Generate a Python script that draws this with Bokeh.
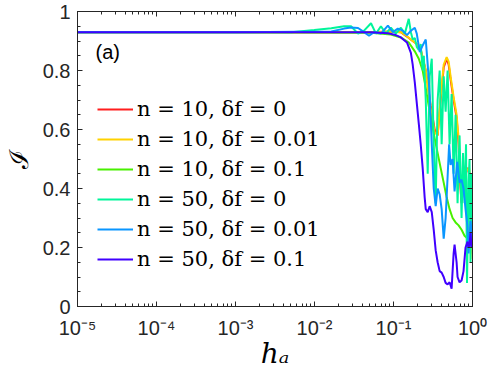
from bokeh.plotting import figure
from bokeh.models import (FixedTicker, LogAxis, LinearAxis, Legend, LegendItem,
                          Label, CustomJSTickFormatter, Range1d)
from bokeh.embed import file_html
from bokeh.resources import INLINE

# ---------------- data ----------------
h_n10 = [1e-5, 1e-3, 0.0519, 0.0927, 0.124, 0.148, 0.175, 0.197, 0.221, 0.256, 0.296,
         0.332, 0.362, 0.395, 0.432, 0.471, 0.499, 0.528, 0.577, 0.629, 0.667, 0.697,
         0.727, 0.759, 0.793, 0.828, 0.865, 0.904, 0.944, 0.985, 1.0]
I_n10_df0 = [0.93, 0.93, 0.93, 0.932, 0.93, 0.915, 0.90, 0.89, 0.87, 0.80, 0.68,
             0.60, 0.58, 0.70, 0.81, 0.84, 0.82, 0.77, 0.70, 0.64, 0.55, 0.42,
             0.35, 0.40, 0.45, 0.46, 0.47, 0.45, 0.38, 0.22, 0.18]
I_n10_df001 = [0.93, 0.93, 0.93, 0.932, 0.93, 0.916, 0.90, 0.89, 0.87, 0.80, 0.67,
               0.59, 0.58, 0.71, 0.82, 0.845, 0.83, 0.78, 0.71, 0.65, 0.57, 0.45,
               0.37, 0.41, 0.47, 0.47, 0.46, 0.47, 0.43, 0.20, 0.16]

h_n10_df01 = [1e-5, 1e-3, 0.0519, 0.0927, 0.124, 0.156, 0.186, 0.209, 0.234, 0.256,
              0.279, 0.305, 0.332, 0.362, 0.395, 0.432, 0.471, 0.513, 0.560, 0.611,
              0.667, 0.727, 0.793, 0.865, 0.944, 1.0]
I_n10_df01 = [0.93, 0.93, 0.928, 0.922, 0.912, 0.895, 0.865, 0.84, 0.80, 0.74,
              0.68, 0.625, 0.57, 0.52, 0.47, 0.42, 0.37, 0.33, 0.30, 0.285,
              0.275, 0.26, 0.24, 0.23, 0.225, 0.22]

h_n50_df0 = [1e-5, 1e-3, 0.00511, 0.00993, 0.0163, 0.0237, 0.0290, 0.0356, 0.0424,
             0.0519, 0.0600, 0.0693, 0.0802, 0.0927, 0.107, 0.124, 0.139, 0.156,
             0.166, 0.175, 0.186, 0.197, 0.209, 0.221, 0.234, 0.242, 0.256, 0.271,
             0.287, 0.305, 0.323, 0.342, 0.362, 0.384, 0.407, 0.432, 0.457, 0.484,
             0.513, 0.544, 0.577, 0.611, 0.647, 0.686, 0.727, 0.759, 0.793, 0.828,
             0.852, 0.891, 0.917, 0.944, 0.971, 1.0]
I_n50_df0 = [0.93, 0.93, 0.93, 0.937, 0.943, 0.95, 0.95, 0.925, 0.935,
             0.96, 0.925, 0.95, 0.925, 0.945, 0.925, 0.945, 0.925, 0.975,
             0.93, 0.905, 0.91, 0.88, 0.87, 0.89, 0.80, 0.85, 0.70, 0.45,
             0.78, 0.84, 0.55, 0.35, 0.70, 0.80, 0.55, 0.78, 0.66, 0.80,
             0.55, 0.72, 0.45, 0.65, 0.35, 0.58, 0.30, 0.52, 0.35, 0.55,
             0.08, 0.42, 0.50, 0.15, 0.45, 0.30]

h_n50_df001 = [1e-5, 1e-3, 0.0163, 0.0237, 0.0290, 0.0356, 0.0424, 0.0490, 0.0566,
               0.0693, 0.0849, 0.0982, 0.1135, 0.131, 0.148, 0.166, 0.186, 0.197,
               0.215, 0.234, 0.256, 0.271, 0.287, 0.305, 0.323, 0.342, 0.362, 0.384,
               0.407, 0.432, 0.457, 0.484, 0.506, 0.528, 0.560, 0.593, 0.641, 0.686,
               0.727, 0.770, 0.816, 0.865, 0.891, 0.944, 1.0]
I_n50_df001 = [0.93, 0.93, 0.932, 0.942, 0.946, 0.944, 0.93, 0.918, 0.93,
               0.925, 0.952, 0.93, 0.942, 0.935, 0.92, 0.935, 0.945, 0.925,
               0.862, 0.885, 0.905, 0.82, 0.72, 0.55, 0.40, 0.34, 0.40, 0.38,
               0.33, 0.23, 0.30, 0.44, 0.55, 0.48, 0.50, 0.39, 0.49, 0.42,
               0.43, 0.40, 0.33, 0.27, 0.18, 0.29, 0.22]

h_n50_df01 = [1e-5, 1e-3, 0.0519, 0.0849, 0.107, 0.124, 0.148, 0.166, 0.175, 0.186,
              0.197, 0.209, 0.221, 0.234, 0.248, 0.256, 0.271, 0.287, 0.305, 0.323,
              0.342, 0.362, 0.384, 0.407, 0.432, 0.457, 0.484, 0.513, 0.544, 0.560,
              0.577, 0.593, 0.629, 0.647, 0.686, 0.727, 0.770, 0.816, 0.865, 0.891,
              0.917, 0.944, 0.971, 1.0]
I_n50_df01 = [0.93, 0.93, 0.93, 0.926, 0.92, 0.912, 0.895, 0.86, 0.82, 0.76,
              0.69, 0.62, 0.55, 0.47, 0.37, 0.33, 0.32, 0.34, 0.32, 0.26,
              0.19, 0.15, 0.12, 0.115, 0.10, 0.08, 0.075, 0.082, 0.06, 0.12,
              0.18, 0.21, 0.15, 0.10, 0.082, 0.088, 0.12, 0.20, 0.22, 0.20,
              0.21, 0.25, 0.20, 0.22]

series_labels = ["n = 10, δf = 0", "n = 10, δf = 0.01", "n = 10, δf = 0.1",
                 "n = 50, δf = 0", "n = 50, δf = 0.01", "n = 50, δf = 0.1"]
series_x = [h_n10, h_n10, h_n10_df01, h_n50_df0, h_n50_df001, h_n50_df01]
series_y = [I_n10_df0, I_n10_df001, I_n10_df01, I_n50_df0, I_n50_df001, I_n50_df01]
series_colors = ["#FF1E1E", "#FFD200", "#48F000", "#00F59A", "#0A96FF", "#4000FF"]

x_ticks = [1e-5, 1e-4, 1e-3, 1e-2, 1e-1, 1.0]
y_ticks = [0, 0.2, 0.4, 0.6, 0.8, 1.0]

# ---------------- figure ----------------
AX = "#262626"
p = figure(width=488, height=372, x_axis_type="log",
           x_range=Range1d(1e-5, 1), y_range=Range1d(0, 1),
           output_backend="svg", toolbar_location=None,
           min_border_left=75, min_border_right=16, min_border_top=11,
           min_border_bottom=65)
p.xgrid.visible = False
p.ygrid.visible = False
p.outline_line_color = AX
p.background_fill_color = "white"
p.border_fill_color = "white"

x_minor = [m * d for d in x_ticks[:-1] for m in range(2, 10)]
y_minor = [i * 0.05 for i in range(21)]
xticker = FixedTicker(ticks=x_ticks, minor_ticks=x_minor)
yticker = FixedTicker(ticks=y_ticks, minor_ticks=y_minor)

sup_code = """
const sup = {"-":"\u207b","0":"\u2070","1":"\u00b9","2":"\u00b2","3":"\u00b3",
             "4":"\u2074","5":"\u2075","6":"\u2076","7":"\u2077","8":"\u2078","9":"\u2079"};
const e = Math.round(Math.log10(tick));
return "10" + String(e).split("").map(c => sup[c]).join("");
"""


def style(ax):
    ax.axis_line_color = AX
    ax.major_tick_line_color = AX
    ax.minor_tick_line_color = AX
    ax.major_tick_in = 5
    ax.major_tick_out = 0
    ax.minor_tick_in = 3
    ax.minor_tick_out = 0
    ax.major_label_text_color = AX
    ax.major_label_text_font = "Liberation Sans"
    ax.major_label_text_font_size = "20px"


xa = p.xaxis[0]
style(xa)
xa.ticker = xticker
xa.formatter = CustomJSTickFormatter(code=sup_code)
xa.major_label_standoff = 10
xa.axis_label = "hₐ"
xa.axis_label_text_font = "DejaVu Serif"
xa.axis_label_text_font_style = "italic"
xa.axis_label_text_font_size = "28px"
xa.axis_label_text_color = "black"
xa.axis_label_standoff = -5

ya = p.yaxis[0]
style(ya)
ya.ticker = yticker
ya.major_label_standoff = 7
ya.axis_label = "ℐ"
ya.axis_label_text_font = "DejaVu Serif"
ya.axis_label_text_font_style = "normal"
ya.axis_label_text_font_size = "26px"
ya.axis_label_text_color = "black"
ya.axis_label_standoff = 6

top = LogAxis(ticker=xticker)
style(top)
top.major_label_text_font_size = "1px"
top.major_label_text_alpha = 0
top.major_label_standoff = 0
p.add_layout(top, "above")

right = LinearAxis(ticker=yticker)
style(right)
right.major_label_text_font_size = "1px"
right.major_label_text_alpha = 0
right.major_label_standoff = 0
p.add_layout(right, "right")

items = []
for xs, ys, c, lab in zip(series_x, series_y, series_colors, series_labels):
    r = p.line(xs, ys, line_color=c, line_width=2)
    items.append(LegendItem(label=lab, renderers=[r]))

legend = Legend(items=items, location=(20, 35), padding=0, margin=0,
                spacing=6, glyph_width=36, glyph_height=24, label_height=24,
                label_standoff=4, label_text_font="DejaVu Serif",
                label_text_font_size="21px", label_text_color="black",
                background_fill_alpha=0, border_line_alpha=0)
p.add_layout(legend)

p.add_layout(Label(x=1.69e-5, y=0.864, text="(a)", text_font="Liberation Sans",
                   text_font_size="20px", text_baseline="middle", text_color="black"))

with open("out.html", "w", encoding="utf-8") as f:
    f.write(file_html(p, INLINE))
